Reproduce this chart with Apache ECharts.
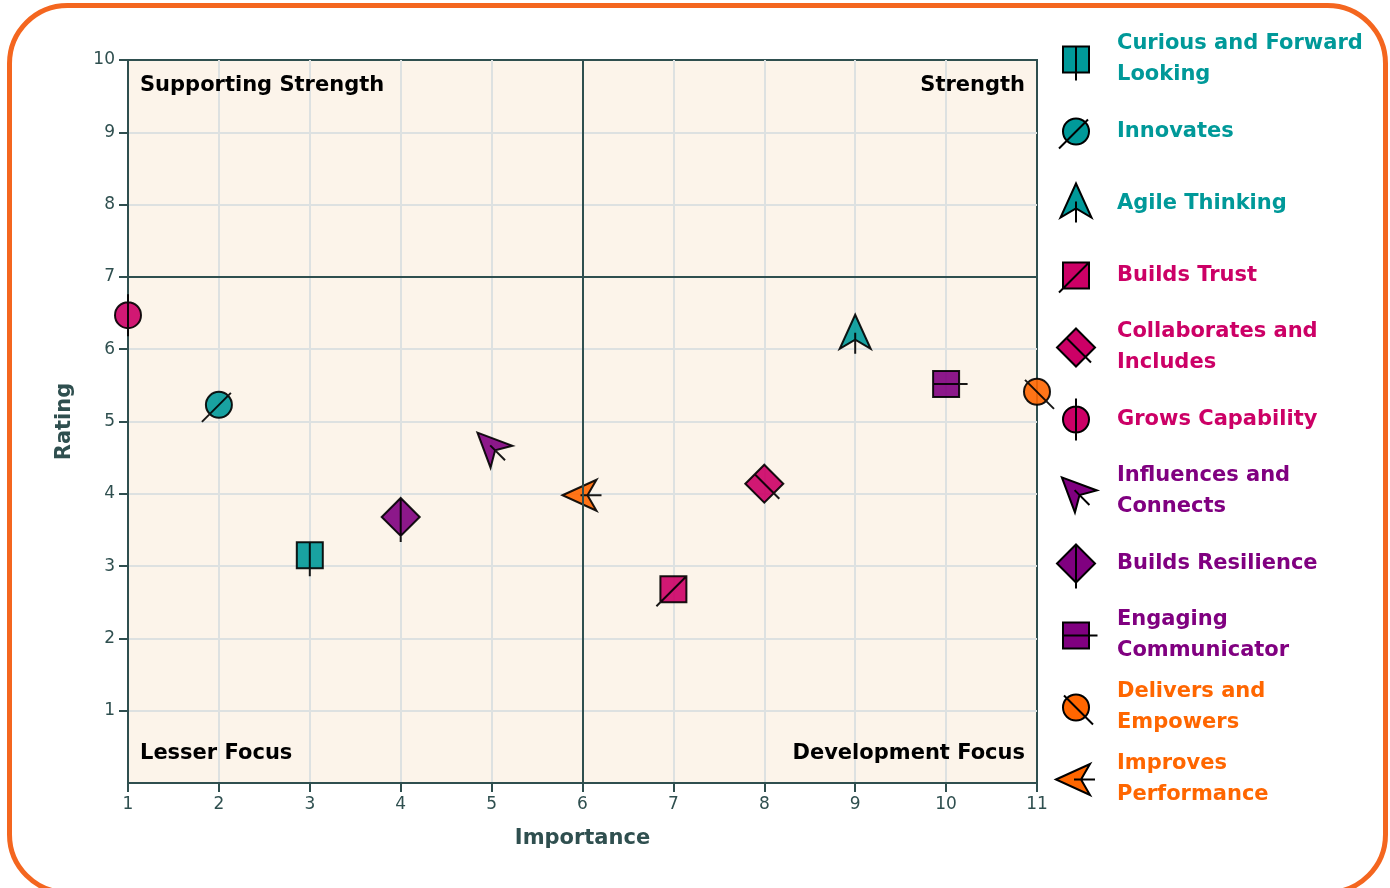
<!DOCTYPE html>
<html><head><meta charset="utf-8">
<script src="https://cdn.jsdelivr.net/npm/echarts@6/dist/echarts.min.js"></script>
<style>html,body{margin:0;padding:0;background:#fff}#chart{width:1390px;height:888px}</style>
</head><body><div id="chart"></div>
<script>
// ---- data ----
const names = ['Curious and Forward Looking', 'Innovates', 'Agile Thinking', 'Builds Trust',
  'Collaborates and Includes', 'Grows Capability', 'Influences and Connects', 'Builds Resilience',
  'Engaging Communicator', 'Delivers and Empowers', 'Improves Performance'];
const legendLabels = ['Curious and Forward\nLooking', 'Innovates', 'Agile Thinking', 'Builds Trust',
  'Collaborates and\nIncludes', 'Grows Capability', 'Influences and\nConnects', 'Builds Resilience',
  'Engaging\nCommunicator', 'Delivers and\nEmpowers', 'Improves\nPerformance'];
const importance = [3, 2, 9, 7, 8, 1, 5, 4, 10, 11, 6];
const rating = [3.15, 5.23, 6.2, 2.68, 4.14, 6.47, 4.65, 3.68, 5.52, 5.41, 3.98];
const groups = ['teal', 'teal', 'teal', 'magenta', 'magenta', 'magenta', 'purple', 'purple', 'purple', 'orange', 'orange'];
const markers = ['squareV', 'circleSlash', 'arrow', 'squareDiag', 'diamondSlash', 'circleV', 'arrow', 'diamondV', 'squareH', 'circleBack', 'arrow'];
const rotations = [0, 0, 0, 0, 0, 0, 45, 0, 0, 0, 90];
const quadrantLabels = ['Supporting Strength', 'Strength', 'Lesser Focus', 'Development Focus'];
const xRange = [1, 11];
const yRange = [0, 10];
const split = [6, 7];

// ---- styles ----
const colors = { teal: '#009999', magenta: '#cc0066', purple: '#800080', orange: '#ff6600' };
const FONT = 'DejaVu Sans';
const AXIS = '#2f4f4f';
const BOX = 'M0,0 M52,52 ';
const SQ = 'M13,13 L39,13 L39,39 L13,39 Z ';
const CI = 'M13,26 A13,13 0 1,1 39,26 A13,13 0 1,1 13,26 Z ';
const DI = 'M26,7 L45,26 L26,45 L7,26 Z ';
const symbolPaths = {
  squareV: SQ + 'M26,13 L26,47',
  squareDiag: SQ + 'M39,13 L9,43',
  squareH: SQ + 'M13,26 L47.5,26',
  circleSlash: CI + 'M38,14 L9,43',
  circleV: CI + 'M26,5 L26,47',
  circleBack: CI + 'M14,14 L43,43',
  arrow: 'M26,6 L41.5,40 L26,31 L10.5,40 Z M26,24 L26,45',
  diamondSlash: DI + 'M16.5,16.5 L41,41',
  diamondV: DI + 'M26,7 L26,51'
};

// rotate an M/L/Z-only glyph path counter-clockwise about the glyph centre
function rotateGlyph(path, deg) {
  if (!deg) return path;
  const t = deg * Math.PI / 180, c = Math.cos(t), s = Math.sin(t);
  return path.replace(/(-?[\d.]+),(-?[\d.]+)/g, (m, a, b) => {
    const dx = +a - 26, dy = +b - 26;
    const x = 26 + dx * c + dy * s;
    const y = 26 - dx * s + dy * c;
    return x.toFixed(2) + ',' + y.toFixed(2);
  });
}

const series = names.map((n, i) => ({
  type: 'scatter',
  name: n,
  data: [[importance[i], rating[i]]],
  symbol: 'path://' + BOX + rotateGlyph(symbolPaths[markers[i]], rotations[i]),
  symbolSize: 52,
  symbolKeepAspect: true,
  clip: false,
  z: 3,
  itemStyle: { color: colors[groups[i]], borderColor: '#000', borderWidth: 2, opacity: 0.9 },
  emphasis: { scale: false }
}));

const qPos = ['insideTopLeft', 'insideTopRight', 'insideBottomLeft', 'insideBottomRight'];
const qRects = [
  [[xRange[0], split[1]], [split[0], yRange[1]]],
  [[split[0], split[1]], [xRange[1], yRange[1]]],
  [[xRange[0], yRange[0]], [split[0], split[1]]],
  [[split[0], yRange[0]], [xRange[1], split[1]]]
];
const qOffsets = [[0, 3], [0, 3], [0, -7], [0, -7]];

series.push({
  type: 'scatter',
  data: [],
  z: 1,
  silent: true,
  markLine: {
    silent: true,
    symbol: 'none',
    label: { show: false },
    lineStyle: { color: AXIS, width: 2, type: 'solid' },
    emphasis: { disabled: true },
    data: [{ xAxis: split[0] }, { yAxis: split[1] }]
  },
  markArea: {
    silent: true,
    itemStyle: { color: 'rgba(0,0,0,0)' },
    label: { fontFamily: FONT, fontWeight: 'bold', fontSize: 21, color: '#000', distance: 12 },
    data: quadrantLabels.map((q, i) => [
      { name: q, coord: qRects[i][0], label: { position: qPos[i], offset: qOffsets[i] } },
      { coord: qRects[i][1] }
    ])
  }
});

const axisCommon = {
  type: 'value',
  interval: 1,
  nameLocation: 'middle',
  nameTextStyle: { fontFamily: FONT, fontWeight: 'bold', fontSize: 21, color: AXIS },
  axisLine: { show: true, lineStyle: { color: AXIS, width: 2 } },
  axisTick: { show: true, length: 9, lineStyle: { color: AXIS, width: 2 } },
  splitLine: { show: true, showMinLine: false, showMaxLine: false, lineStyle: { color: '#dde1e1', width: 2 } }
};

const option = {
  backgroundColor: '#fff',
  animation: false,
  graphic: [{
    type: 'rect', silent: true, z: 100,
    shape: { x: 9.5, y: 5.5, width: 1376, height: 887, r: 58 },
    style: { fill: 'none', stroke: '#f4661f', lineWidth: 5 }
  }],
  grid: { left: 128, right: 353, top: 60, bottom: 105, show: true, backgroundColor: '#fcf4ea', borderColor: AXIS, borderWidth: 2 },
  xAxis: Object.assign({}, axisCommon, {
    min: xRange[0], max: xRange[1], name: 'Importance', nameGap: 45,
    axisLabel: { fontFamily: FONT, fontSize: 17, color: AXIS, margin: 13 }
  }),
  yAxis: Object.assign({}, axisCommon, {
    min: yRange[0], max: yRange[1], name: 'Rating', nameGap: 53,
    axisLabel: { fontFamily: FONT, fontSize: 17, color: AXIS, margin: 13, showMinLabel: false, padding: [4, 0, 0, 0] }
  }),
  legend: {
    orient: 'vertical', left: 1044, top: 20.5,
    itemWidth: 72, itemHeight: 52, itemGap: 4,
    selectedMode: false,
    formatter: n => legendLabels[names.indexOf(n)],
    textStyle: { fontFamily: FONT, fontWeight: 'bold', fontSize: 21, padding: [0, 0, 6, 0] },
    itemStyle: { borderColor: '#000', borderWidth: 2, opacity: 1 },
    data: names.map((n, i) => ({
      name: n,
      textStyle: { color: colors[groups[i]], lineHeight: legendLabels[i].indexOf('\n') >= 0 ? 31 : 62 }
    }))
  },
  series: series
};

const chart = echarts.init(document.getElementById('chart'), null, { renderer: 'canvas' });
chart.setOption(option);
</script>
</body></html>
